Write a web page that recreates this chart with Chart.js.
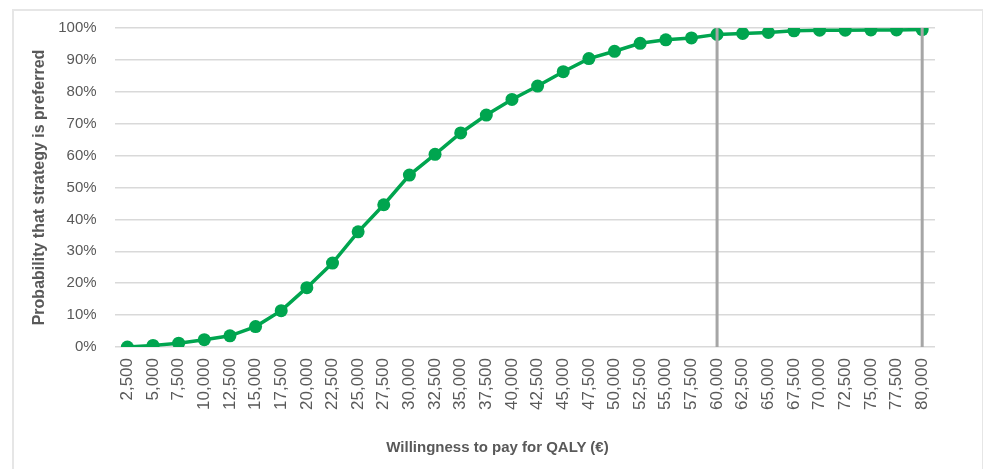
<!DOCTYPE html>
<html>
<head>
<meta charset="utf-8">
<script src="https://cdn.jsdelivr.net/npm/chart.js@4.4.1/dist/chart.umd.min.js"></script>
<style>
    html, body { margin: 0; padding: 0; background: #fff; }
    #wrap { position: relative; width: 986px; height: 469px; overflow: hidden; }
    #frame {
        position: absolute; left: 12px; top: 9px; width: 971px; height: 462px;
        border: 2px solid #e6e6e6; border-right-width: 1px; box-sizing: border-box;
    }
    #chart { position: absolute; left: 0; top: 0; }
    #xtitle {
        position: absolute; left: 12px; width: 971px; top: 438px; text-align: center;
        font: bold 15px "Liberation Sans", Arial, sans-serif; color: #595959;
    }
</style>
</head>
<body>
<div id="wrap">
    <div id="frame"></div>
    <canvas id="chart" width="986" height="469"></canvas>
    <div id="xtitle">Willingness to pay for QALY (€)</div>
</div>
<script>
(function () {
    'use strict';

    // ── DATA ───────────────────────────────────────────────────────────────
    const WTP_LABELS = ['2,500','5,000','7,500','10,000','12,500','15,000','17,500','20,000',
        '22,500','25,000','27,500','30,000','32,500','35,000','37,500','40,000',
        '42,500','45,000','47,500','50,000','52,500','55,000','57,500','60,000',
        '62,500','65,000','67,500','70,000','72,500','75,000','77,500','80,000'];
    const PROB_VALUES = [0, 0.5, 1.2, 2.3, 3.5, 6.4, 11.4, 18.6,
        26.3, 36.1, 44.6, 53.9, 60.4, 67.1, 72.7, 77.6,
        81.8, 86.3, 90.4, 92.7, 95.2, 96.3, 96.9, 98.0,
        98.3, 98.6, 99.1, 99.3, 99.3, 99.4, 99.4, 99.5];
    const THRESHOLDS = ['60,000', '80,000'];
    const THRESHOLD_RANGE = [0, 100];

    // ── COLORS ─────────────────────────────────────────────────────────────
    const GREEN = '#00a54f';
    const GREY  = '#a6a6a6';
    const TEXT  = '#595959';
    const GRID  = '#d9d9d9';
    const FONT  = '"Liberation Sans", Arial, sans-serif';

    const thresholdSets = THRESHOLDS.map(t => ({
        data: THRESHOLD_RANGE.map(v => ({ x: t, y: v })),
        borderColor: GREY,
        borderWidth: 3,
        pointRadius: 0,
        borderCapStyle: 'butt',
        order: 0
    }));

    new Chart(document.getElementById('chart'), {
        type: 'line',
        data: {
            labels: WTP_LABELS,
            datasets: [{
                data: PROB_VALUES,
                borderColor: GREEN,
                backgroundColor: GREEN,
                pointBackgroundColor: GREEN,
                pointBorderWidth: 0,
                pointRadius: 6.5,
                borderWidth: 3.5,
                tension: 0,
                order: 1
            }, ...thresholdSets]
        },
        options: {
            responsive: false,
            animation: false,
            layout: { padding: { left: 30, top: 28, right: 51, bottom: 56 } },
            plugins: {
                legend: { display: false },
                tooltip: { enabled: false }
            },
            scales: {
                x: {
                    type: 'category',
                    offset: true,
                    grid: { display: false },
                    border: { display: false },
                    ticks: {
                        autoSkip: false,
                        maxRotation: 90,
                        minRotation: 90,
                        color: TEXT,
                        font: { family: FONT, size: 17 },
                        padding: 3
                    }
                },
                y: {
                    min: 0,
                    max: 100,
                    ticks: {
                        stepSize: 10,
                        color: TEXT,
                        font: { family: FONT, size: 15 },
                        padding: 18,
                        callback: v => v + '%'
                    },
                    grid: { color: GRID, lineWidth: 1.5, drawTicks: false },
                    border: { display: false },
                    title: {
                        display: true,
                        text: 'Probability that strategy is preferred',
                        color: TEXT,
                        font: { family: FONT, size: 16, weight: 'bold' },
                        padding: { top: 0, bottom: -9 }
                    }
                }
            }
        }
    });
})();
</script>
</body>
</html>
